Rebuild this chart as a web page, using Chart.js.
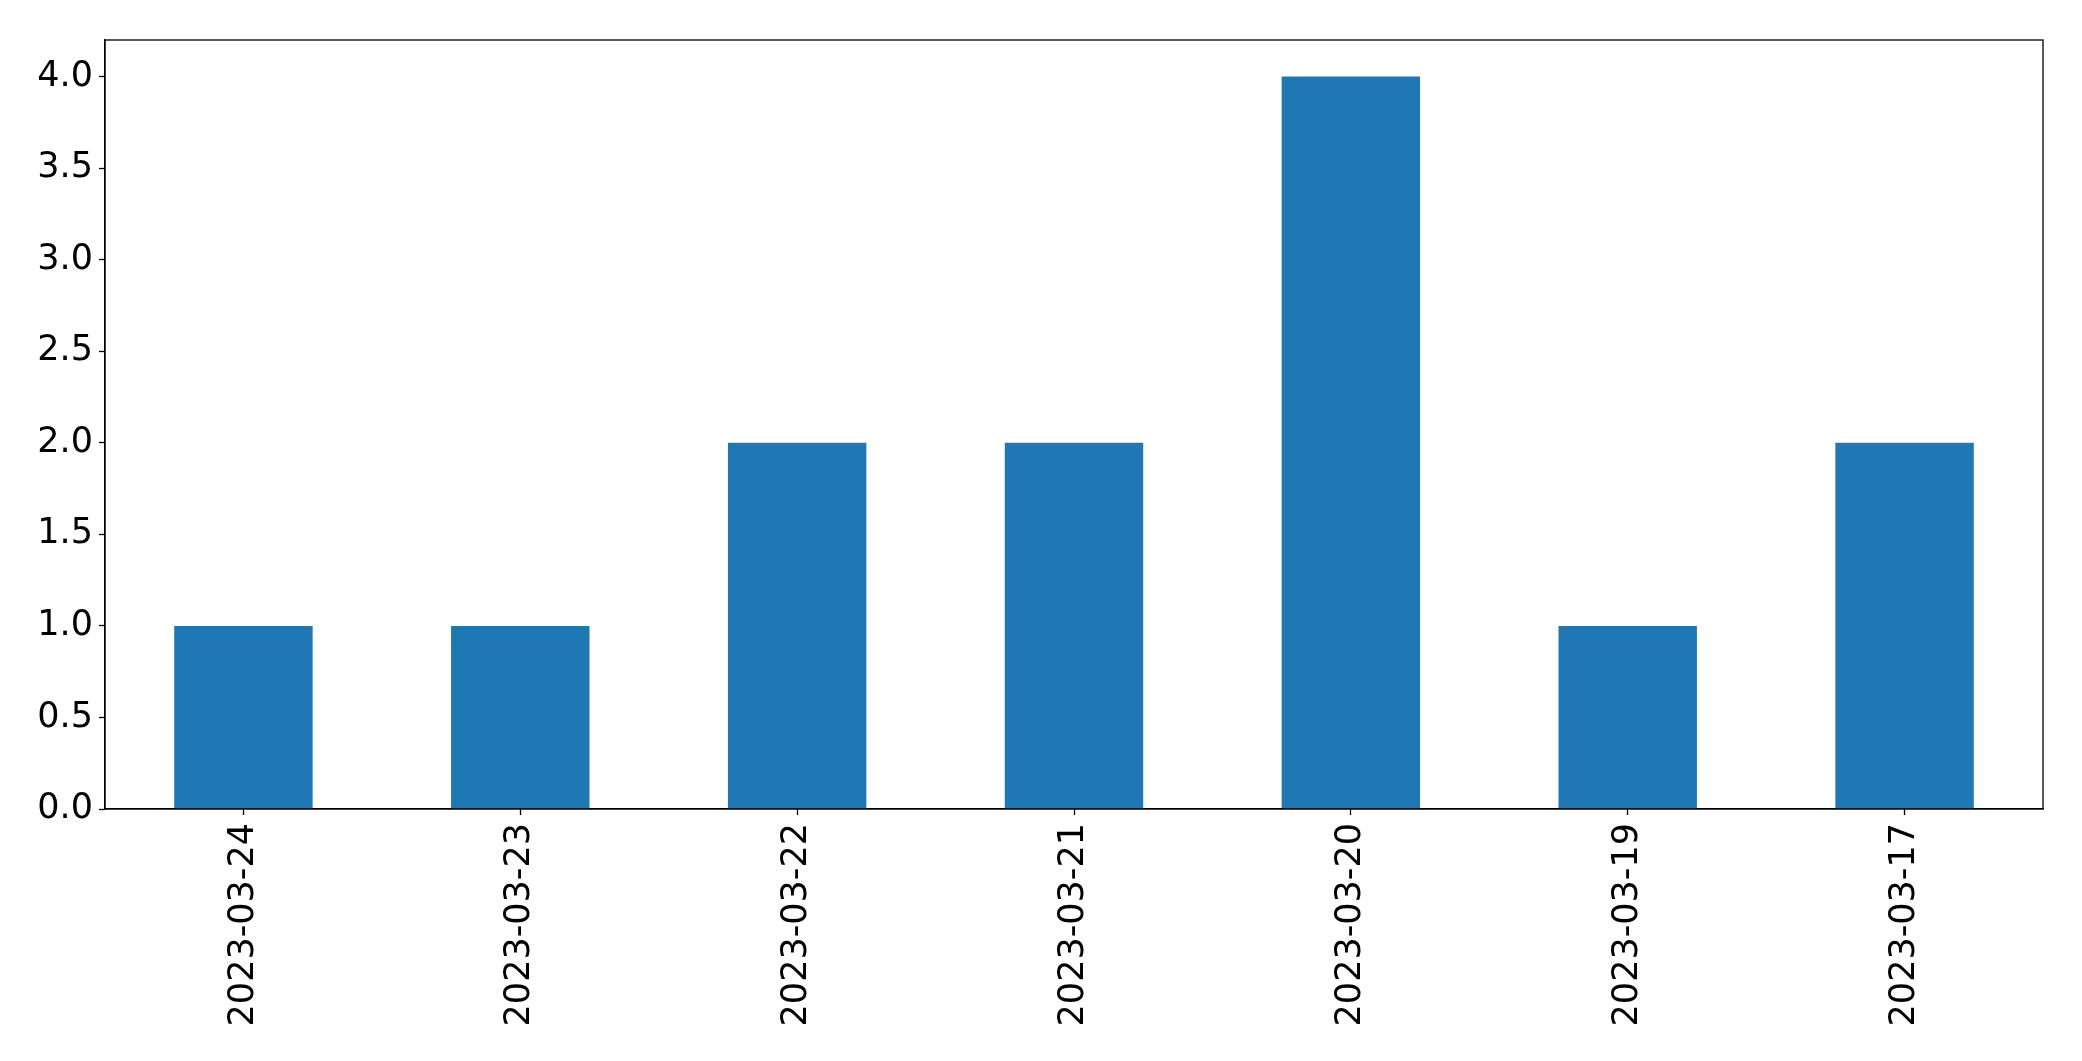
<!DOCTYPE html>
<html>
<head>
<meta charset="utf-8">
<script src="https://cdn.jsdelivr.net/npm/chart.js@4/dist/chart.umd.min.js"></script>
<style>
  html, body { margin: 0; padding: 0; background: #fff; }
  #wrap { width: 2082px; height: 1061px; }
</style>
</head>
<body>
<div id="wrap"><canvas id="chart" width="2082" height="1061"></canvas></div>
<script>
const dates = ['2023-03-24', '2023-03-23', '2023-03-22', '2023-03-21', '2023-03-20', '2023-03-19', '2023-03-17'];
const counts = [1, 1, 2, 2, 4, 1, 2];
const yTicks = [0, 0.5, 1, 1.5, 2, 2.5, 3, 3.5, 4];

// frame around the plot area, like the matplotlib axes box
const frame = {
    id: 'frame',
    afterDraw(chart) {
        const a = chart.chartArea;
        const ctx = chart.ctx;
        ctx.save();
        ctx.strokeStyle = '#000';
        ctx.lineWidth = 1.3;
        ctx.strokeRect(a.left, a.top, a.right - a.left, a.bottom - a.top);
        ctx.restore();
    }
};

const font = { family: '"DejaVu Sans", sans-serif', size: 35 };

new Chart(document.getElementById('chart').getContext('2d'), {
    type: 'bar',
    data: {
        labels: dates,
        datasets: [{
            data: counts,
            backgroundColor: '#1f77b4',
            borderWidth: 0,
            barPercentage: 0.5,
            categoryPercentage: 1.0
        }]
    },
    options: {
        responsive: false,
        animation: false,
        layout: { padding: { top: 40, right: 39, left: 0, bottom: 0 } },
        plugins: { legend: { display: false }, tooltip: { enabled: false } },
        scales: {
            x: {
                offset: true,
                grid: { offset: false, drawOnChartArea: false, drawTicks: true, tickLength: 6, tickColor: '#000', tickWidth: 1.3 },
                border: { display: true, color: '#000', width: 1.3 },
                ticks: { color: '#000', font: font, minRotation: 90, maxRotation: 90, padding: 8, autoSkip: false },
                afterFit(scale) { scale.height = 252; }
            },
            y: {
                min: 0,
                max: 4.2,
                grid: { drawOnChartArea: false, drawTicks: true, tickLength: 6, tickColor: '#000', tickWidth: 1.3 },
                border: { display: true, color: '#000', width: 1.3 },
                ticks: {
                    color: '#000', font: font, padding: 6,
                    callback: v => Number(v).toFixed(1)
                },
                afterBuildTicks(scale) { scale.ticks = yTicks.map(v => ({ value: v })); },
                afterFit(scale) { scale.width = 105; }
            }
        }
    },
    plugins: [frame]
});
</script>
</body>
</html>
